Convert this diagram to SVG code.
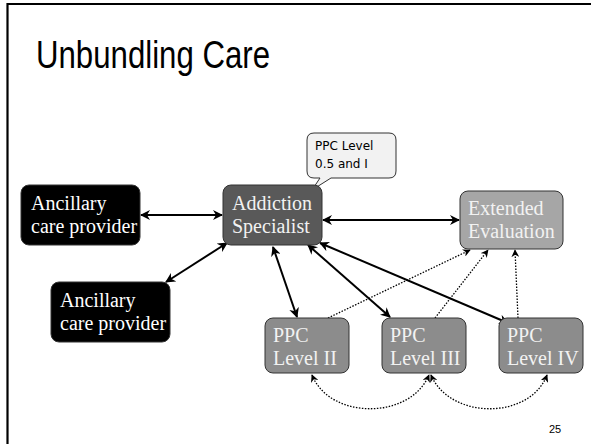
<svg xmlns="http://www.w3.org/2000/svg" width="591" height="444" viewBox="0 0 591 444">
<defs>
<marker id="ah" viewBox="0 0 10 10" refX="9" refY="5" markerWidth="5" markerHeight="5" orient="auto-start-reverse" markerUnits="strokeWidth">
<path d="M0,0 L10,5 L0,10 L3,5 z" fill="#000"/>
</marker>
<marker id="ahd" viewBox="0 0 10 10" refX="9" refY="5" markerWidth="6" markerHeight="6" orient="auto-start-reverse" markerUnits="strokeWidth">
<path d="M0,0 L10,5 L0,10 L3,5 z" fill="#000"/>
</marker>
</defs>
<style>
.box{stroke:#333;stroke-width:1}
.t{font-family:"Liberation Serif","Times New Roman",serif;font-size:20px;fill:#fff}
.tl{font-family:"Liberation Serif","Times New Roman",serif;font-size:20px;fill:#f2f2f2}
.solid{fill:none;stroke:#000;stroke-width:2;marker-start:url(#ah);marker-end:url(#ah)}
.dot{fill:none;stroke:#000;stroke-width:1.3;stroke-dasharray:1.5 1.5}
</style>
<rect width="591" height="444" fill="#fff"/>
<path d="M7.5,444 V4 H591" fill="none" stroke="#000" stroke-width="2.2"/>
<text x="36" y="68" font-family="'Liberation Sans Narrow','Liberation Sans',Arial,sans-serif" font-size="38" textLength="234" lengthAdjust="spacingAndGlyphs" fill="#000">Unbundling Care</text>

<g id="connectors">
<line class="solid" x1="141" y1="215" x2="222" y2="215"/>
<line class="solid" x1="227" y1="243" x2="166" y2="282"/>
<line class="solid" x1="323" y1="220" x2="459" y2="220"/>
<line class="solid" x1="273" y1="247" x2="297" y2="317"/>
<line class="solid" x1="308" y1="245" x2="390" y2="317"/>
<line class="solid" x1="320" y1="243" x2="508" y2="323"/>
<line class="dot" marker-end="url(#ahd)" x1="328" y1="318" x2="470" y2="250"/>
<line class="dot" marker-end="url(#ahd)" x1="435" y1="318" x2="488" y2="250"/>
<line class="dot" marker-end="url(#ahd)" x1="518" y1="318" x2="515" y2="250"/>
<path class="dot" marker-start="url(#ahd)" marker-end="url(#ahd)" d="M312,375 C330,420 410,420 429,375"/>
<path class="dot" marker-start="url(#ahd)" marker-end="url(#ahd)" d="M431,375 C450,420 530,420 547,375"/>
</g>

<g id="callout">
<path d="M314,133 H389 Q396,133 396,140 V171 Q396,178 389,178 H331 L312,190 L320,178 H314 Q307,178 307,171 V140 Q307,133 314,133 Z" fill="#f2f2f2" stroke="#333" stroke-width="1"/>
<text x="315" y="150" font-family="'DejaVu Sans',Verdana,sans-serif" font-size="12" fill="#000">PPC Level</text>
<text x="315" y="168" font-family="'DejaVu Sans',Verdana,sans-serif" font-size="12" fill="#000">0.5 and I</text>
</g>

<g id="ancillary1">
<rect class="box" x="21" y="185" width="119" height="60" rx="8" fill="#000"/>
<text class="t" x="31" y="210">Ancillary</text>
<text class="t" x="31" y="233">care provider</text>
</g>
<g id="ancillary2">
<rect class="box" x="51" y="282" width="119" height="60" rx="8" fill="#000"/>
<text class="t" x="60" y="307">Ancillary</text>
<text class="t" x="60" y="330">care provider</text>
</g>
<g id="addiction">
<rect class="box" x="223" y="185" width="99" height="60" rx="8" fill="#595959"/>
<text class="tl" x="232" y="210">Addiction</text>
<text class="tl" x="232" y="233">Specialist</text>
</g>
<g id="extended">
<rect class="box" x="460" y="191" width="103" height="58" rx="8" fill="#a6a6a6"/>
<text class="tl" x="468" y="215">Extended</text>
<text class="tl" x="468" y="238">Evaluation</text>
</g>
<g id="ppc2">
<rect class="box" x="265" y="318" width="84" height="55" rx="8" fill="#8c8c8c"/>
<text class="tl" x="273" y="342">PPC</text>
<text class="tl" x="273" y="365">Level II</text>
</g>
<g id="ppc3">
<rect class="box" x="382" y="318" width="84" height="55" rx="8" fill="#8c8c8c"/>
<text class="tl" x="390" y="342">PPC</text>
<text class="tl" x="390" y="365">Level III</text>
</g>
<g id="ppc4">
<rect class="box" x="499" y="318" width="84" height="55" rx="8" fill="#8c8c8c"/>
<text class="tl" x="507" y="342">PPC</text>
<text class="tl" x="507" y="365">Level IV</text>
</g>
<text x="549" y="433" font-family="'Liberation Sans',Arial,sans-serif" font-size="11" fill="#000">25</text>
</svg>
